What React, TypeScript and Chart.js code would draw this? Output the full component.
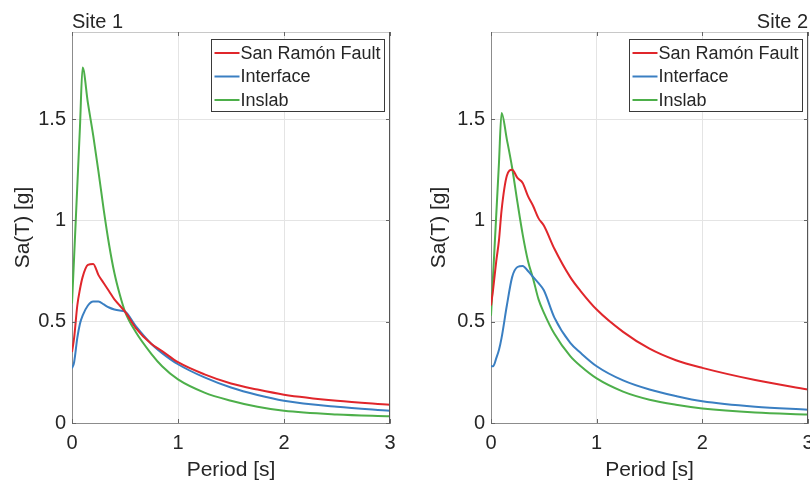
import React, { useEffect, useRef } from "react";
import { Chart, registerables } from "chart.js";

Chart.register(...registerables);

// Periods (s)
const periods = [0, 0.02, 0.05, 0.075, 0.1, 0.15, 0.2, 0.25, 0.3, 0.35, 0.4, 0.45, 0.5, 0.6, 0.75, 0.85, 1.0, 1.25, 1.5, 1.75, 2.0, 2.5, 3.0];

// Site 1 spectra Sa(T) [g]
const site1Fault = [0.35, 0.42, 0.58, 0.66, 0.72, 0.78, 0.785, 0.73, 0.69, 0.65, 0.61, 0.58, 0.55, 0.47, 0.39, 0.355, 0.30, 0.24, 0.195, 0.165, 0.14, 0.11, 0.09];
const site1Interface = [0.27, 0.30, 0.42, 0.49, 0.53, 0.58, 0.60, 0.60, 0.585, 0.57, 0.56, 0.555, 0.55, 0.48, 0.39, 0.345, 0.29, 0.225, 0.175, 0.138, 0.11, 0.08, 0.06];
const site1Inslab = [0.59, 0.82, 1.17, 1.46, 1.755, 1.58, 1.42, 1.24, 1.05, 0.88, 0.74, 0.635, 0.55, 0.45, 0.34, 0.28, 0.215, 0.15, 0.11, 0.08, 0.06, 0.042, 0.033];

// Site 2 spectra Sa(T) [g]
const site2Fault = [0.58, 0.66, 0.80, 0.90, 1.05, 1.22, 1.25, 1.21, 1.185, 1.12, 1.07, 1.01, 0.975, 0.86, 0.72, 0.65, 0.56, 0.45, 0.367, 0.31, 0.272, 0.212, 0.165];
const site2Interface = [0.28, 0.28, 0.32, 0.36, 0.42, 0.58, 0.72, 0.77, 0.775, 0.75, 0.72, 0.69, 0.655, 0.52, 0.395, 0.345, 0.28, 0.21, 0.165, 0.133, 0.107, 0.08, 0.066];
const site2Inslab = [0.53, 0.73, 1.03, 1.28, 1.53, 1.40, 1.26, 1.09, 0.93, 0.80, 0.71, 0.61, 0.545, 0.44, 0.33, 0.28, 0.22, 0.155, 0.115, 0.09, 0.072, 0.052, 0.042];

const seriesNames = ["San Ramón Fault", "Interface", "Inslab"];
const seriesColors = ["#e0262b", "#3a7fc2", "#4daf4a"];
const yTicks = [0, 0.5, 1, 1.5];
const xTicks = [0, 1, 2, 3];

const FONT = "'Liberation Sans', Arial, Helvetica, sans-serif";
const TEXT = "#262626";

type Props = {
  left: number;
  width: number;
  axisWidth: number;
  padRight: number;
  title: string;
  titleAlign: "left" | "right";
  values: number[][];
};

function SpectrumChart({ left, width, axisWidth, padRight, title, titleAlign, values }: Props) {
  const ref = useRef<HTMLCanvasElement>(null);

  useEffect(() => {
    const canvas = ref.current;
    if (!canvas) return;

    const framePlugin = {
      id: "frame",
      afterDraw(chart: any) {
        const { ctx, chartArea } = chart;
        const { left: l, right: r, top: t, bottom: b } = chartArea;
        const xs = chart.scales.x;
        const ys = chart.scales.y;
        ctx.save();
        ctx.lineWidth = 1;
        ctx.strokeStyle = "#c8c8c8";
        ctx.beginPath();
        ctx.moveTo(l, t + 0.5);
        ctx.lineTo(r, t + 0.5);
        ctx.stroke();
        ctx.strokeStyle = "#555";
        ctx.beginPath();
        ctx.moveTo(r - 0.5, t);
        ctx.lineTo(r - 0.5, b);
        ctx.stroke();
        ctx.strokeStyle = "#666";
        xTicks.forEach((v) => {
          const px = Math.round(xs.getPixelForValue(v)) + 0.5;
          ctx.beginPath();
          ctx.moveTo(px, b);
          ctx.lineTo(px, b - 4);
          ctx.moveTo(px, t);
          ctx.lineTo(px, t + 4);
          ctx.stroke();
        });
        yTicks.forEach((v) => {
          const py = Math.round(ys.getPixelForValue(v)) + 0.5;
          ctx.beginPath();
          ctx.moveTo(l, py);
          ctx.lineTo(l + 4, py);
          ctx.moveTo(r, py);
          ctx.lineTo(r - 4, py);
          ctx.stroke();
        });
        ctx.fillStyle = TEXT;
        ctx.font = `20px ${FONT}`;
        ctx.textBaseline = "alphabetic";
        ctx.textAlign = titleAlign;
        ctx.fillText(title, titleAlign === "left" ? l : r, t - 4.5);
        const bw = 173;
        const bh = 72;
        const bx = Math.round(r - 179) + 0.5;
        const by = Math.round(t + 7) + 0.5;
        ctx.fillStyle = "#ffffff";
        ctx.fillRect(bx, by, bw, bh);
        ctx.strokeStyle = "#3a3a3a";
        ctx.lineWidth = 1;
        ctx.strokeRect(bx, by, bw, bh);
        const rows = [13.5, 37, 60.5];
        ctx.font = `18px ${FONT}`;
        ctx.textAlign = "left";
        ctx.textBaseline = "middle";
        seriesNames.forEach((name, i) => {
          const yy = by + rows[i];
          ctx.strokeStyle = seriesColors[i];
          ctx.lineWidth = 2;
          ctx.beginPath();
          ctx.moveTo(bx + 3, yy);
          ctx.lineTo(bx + 28, yy);
          ctx.stroke();
          ctx.fillStyle = TEXT;
          ctx.fillText(name, bx + 29, yy + 1);
        });
        ctx.restore();
      },
    };

    const chart = new Chart(canvas, {
      type: "line",
      data: {
        datasets: seriesNames.map((name, i) => ({
          label: name,
          data: periods.map((p, k) => ({ x: p, y: values[i][k] })),
          borderColor: seriesColors[i],
          backgroundColor: seriesColors[i],
          borderWidth: 2,
          pointRadius: 0,
          cubicInterpolationMode: "monotone",
          fill: false,
        })),
      },
      options: {
        animation: false,
        responsive: false,
        devicePixelRatio: 1,
        layout: { padding: { top: 32, right: padRight, left: 0, bottom: 0 } },
        plugins: {
          legend: { display: false },
          tooltip: { enabled: false },
          title: { display: false },
        },
        scales: {
          x: {
            type: "linear",
            min: 0,
            max: 3,
            afterBuildTicks: (s: any) => {
              s.ticks = xTicks.map((v) => ({ value: v }));
            },
            afterFit: (s: any) => {
              s.height = 60;
              s.paddingLeft = 0;
              s.paddingRight = 0;
            },
            ticks: {
              padding: 8,
              color: TEXT,
              font: { family: FONT, size: 20 },
              maxRotation: 0,
              callback: (v: any) => String(v),
            },
            grid: { color: "#e4e4e4", drawTicks: false, lineWidth: 1 },
            border: { display: true, color: "#8c8c8c" },
            title: {
              display: true,
              text: "Period [s]",
              color: TEXT,
              font: { family: FONT, size: 21 },
              padding: { top: 0, bottom: 0 },
            },
          },
          y: {
            type: "linear",
            min: 0,
            max: 1.93,
            afterBuildTicks: (s: any) => {
              s.ticks = yTicks.map((v) => ({ value: v }));
            },
            afterFit: (s: any) => {
              s.width = axisWidth;
              s.paddingTop = 0;
              s.paddingBottom = 0;
            },
            ticks: {
              padding: 6,
              color: TEXT,
              font: { family: FONT, size: 20 },
              callback: (v: any) => String(v),
            },
            grid: { color: "#e4e4e4", drawTicks: false, lineWidth: 1 },
            border: { display: true, color: "#8c8c8c" },
            title: {
              display: true,
              text: "Sa(T) [g]",
              color: TEXT,
              font: { family: FONT, size: 21 },
              padding: { top: 11, bottom: 0 },
            },
          },
        },
      },
      plugins: [framePlugin],
    } as any);

    return () => chart.destroy();
  }, []);

  return (
    <div style={{ position: "absolute", left, top: 0, width, height: 483 }}>
      <canvas ref={ref} width={width} height={483} style={{ width, height: 483, display: "block" }} />
    </div>
  );
}

export default function App() {
  return (
    <div style={{ position: "fixed", left: 0, top: 0, width: 810, height: 483, background: "#ffffff", overflow: "hidden" }}>
      <SpectrumChart
        left={0}
        width={400}
        axisWidth={72}
        padRight={10}
        title="Site 1"
        titleAlign="left"
        values={[site1Fault, site1Interface, site1Inslab]}
      />
      <SpectrumChart
        left={416}
        width={394}
        axisWidth={75}
        padRight={2}
        title="Site 2"
        titleAlign="right"
        values={[site2Fault, site2Interface, site2Inslab]}
      />
    </div>
  );
}
